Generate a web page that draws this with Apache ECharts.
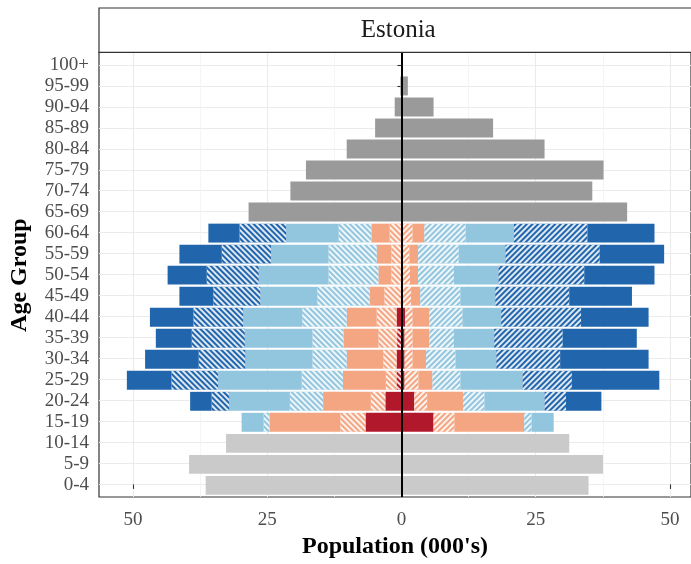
<!DOCTYPE html>
<html>
<head>
<meta charset="utf-8">
<script src="https://cdn.jsdelivr.net/npm/echarts@6/dist/echarts.min.js"></script>
<style>
  html, body { margin: 0; padding: 0; background: #fff; }
  #chart { width: 691px; height: 564px; }
</style>
</head>
<body>
<div id="chart"></div>
<script>
// Age bands, youngest first (drawn bottom to top)
const ageGroups = ['0-4', '5-9', '10-14', '15-19', '20-24', '25-29', '30-34', '35-39',
  '40-44', '45-49', '50-54', '55-59', '60-64', '65-69', '70-74', '75-79', '80-84',
  '85-89', '90-94', '95-99', '100+'];

const youngGroups = ['0-4', '5-9', '10-14'];
const workingGroups = ['15-19', '20-24', '25-29', '30-34', '35-39', '40-44', '45-49',
  '50-54', '55-59', '60-64'];
const oldGroups = ['65-69', '70-74', '75-79', '80-84', '85-89', '90-94', '95-99', '100+'];

// Population in thousands, left half of the pyramid
const youngLeft = [36.6, 39.7, 32.8];
const oldLeft = [28.6, 20.8, 17.9, 10.3, 5.0, 1.35, 0.3, 0.05];
const redSolidLeft   = [6.8, 3.1, 0, 1.0, 0, 1.0, 0.2, 0.2, 0.2, 0.2];
const redHatchLeft   = [0, 0, 1.0, 0, 0.9, 0, 0, 0, 0, 0];
const salmonHatchLeft = [4.7, 2.7, 2.0, 2.5, 3.5, 3.7, 3.1, 1.8, 1.8, 2.1];
const salmonSolidLeft = [13.2, 8.9, 8.0, 6.8, 6.5, 5.6, 2.7, 2.4, 2.7, 3.4];
const lightHatchLeft = [1.1, 6.2, 7.7, 6.4, 5.8, 8.3, 9.8, 9.3, 9.0, 6.1];
const lightSolidLeft = [4.1, 11.3, 15.6, 12.5, 12.6, 11.0, 10.6, 13.0, 10.7, 9.8];
const darkHatchLeft  = [0, 3.3, 8.7, 8.7, 9.9, 9.3, 8.8, 9.7, 9.2, 8.7];
const darkSolidLeft  = [0, 4.0, 8.3, 10.0, 6.7, 8.1, 6.3, 7.3, 7.9, 5.8];

// Population in thousands, right half of the pyramid
const youngRight = [34.8, 37.5, 31.2];
const oldRight = [42.0, 35.5, 37.6, 26.6, 17.0, 5.9, 1.1, 0.15];
const redSolidRight   = [5.9, 2.3, 0.5, 0.5, 0.5, 0.6, 0.2, 0.2, 0.2, 0.2];
const redHatchRight   = [0, 0, 0, 0, 0, 0, 0, 0, 0, 0];
const salmonHatchRight = [3.9, 2.4, 2.6, 1.5, 1.5, 1.4, 1.5, 1.3, 1.2, 1.8];
const salmonSolidRight = [13.0, 6.7, 2.6, 2.5, 3.1, 3.1, 1.7, 1.5, 1.6, 2.2];
const lightHatchRight = [1.4, 4.0, 5.2, 5.5, 4.6, 6.2, 7.5, 6.7, 7.6, 7.7];
const lightSolidRight = [4.1, 11.2, 11.6, 7.6, 7.5, 7.2, 6.5, 8.3, 8.7, 9.0];
const darkHatchRight  = [0, 4.0, 9.2, 11.9, 12.8, 14.9, 13.8, 16.0, 17.6, 13.7];
const darkSolidRight  = [0, 6.6, 16.3, 16.5, 13.8, 12.6, 11.7, 13.1, 12.0, 12.5];

const majorTicks = [-50, -25, 0, 25, 50];
const minorTicks = [-37.5, -12.5, 12.5, 37.5];

const FONT = '"Liberation Serif", "Times New Roman", serif';

// Spread a subset of age bands onto the full category list
function spread(groups, values, sign) {
  const out = ageGroups.map(() => null);
  groups.forEach((g, i) => {
    const v = values[i];
    out[ageGroups.indexOf(g)] = v ? sign * v : null;
  });
  return out;
}

function hatch(side) {
  return {
    symbol: 'rect',
    symbolSize: 1,
    dashArrayX: [1, 0],
    dashArrayY: [2, 2],
    rotation: side === 'L' ? Math.PI / 4 : -Math.PI / 4,
    color: 'rgba(255,255,255,0.85)'
  };
}

// Segments stacked outward from the centre line
const segments = [
  { color: '#B2182B', hatched: false, L: redSolidLeft, R: redSolidRight },
  { color: '#B2182B', hatched: true, L: redHatchLeft, R: redHatchRight },
  { color: '#F4A582', hatched: true, L: salmonHatchLeft, R: salmonHatchRight },
  { color: '#F4A582', hatched: false, L: salmonSolidLeft, R: salmonSolidRight },
  { color: '#92C5DE', hatched: true, L: lightHatchLeft, R: lightHatchRight },
  { color: '#92C5DE', hatched: false, L: lightSolidLeft, R: lightSolidRight },
  { color: '#2166AC', hatched: true, L: darkHatchLeft, R: darkHatchRight },
  { color: '#2166AC', hatched: false, L: darkSolidLeft, R: darkSolidRight }
];

function barSeries(name, data, color, decal) {
  const s = {
    name: name,
    type: 'bar',
    xAxisIndex: 3,
    yAxisIndex: 1,
    stack: 'pop',
    barWidth: '90%',
    data: data,
    itemStyle: { color: color },
    emphasis: { disabled: true },
    silent: true
  };
  if (decal) s.itemStyle.decal = decal;
  return s;
}

const series = [];
['L', 'R'].forEach(side => {
  const sign = side === 'L' ? -1 : 1;
  segments.forEach((seg, k) => {
    series.push(barSeries('seg' + k + side, spread(workingGroups, seg[side], sign),
      seg.color, seg.hatched ? hatch(side) : null));
  });
  series.push(barSeries('young' + side,
    spread(youngGroups, side === 'L' ? youngLeft : youngRight, sign), '#CACACA', null));
  series.push(barSeries('old' + side,
    spread(oldGroups, side === 'L' ? oldLeft : oldRight, sign), '#9A9A9A', null));
});

// Axis limits: data range padded by 5% on each side
function totals(idx, side) {
  let t = 0;
  segments.forEach(seg => { t += seg[side][idx]; });
  return t;
}
const leftMax = Math.max(...youngLeft, ...oldLeft, ...workingGroups.map((_, i) => totals(i, 'L')));
const rightMax = Math.max(...youngRight, ...oldRight, ...workingGroups.map((_, i) => totals(i, 'R')));
const pad = 0.05 * (leftMax + rightMax);
const xMin = -(leftMax + pad);
const xMax = rightMax + pad;

const panel = { left: 99, right: -6.4, top: 52.3, bottom: 66 };
const band = (564 - panel.top - panel.bottom) / (ageGroups.length + 0.2);

const chart = echarts.init(document.getElementById('chart'), null, { renderer: 'canvas' });

chart.setOption({
  animation: false,
  backgroundColor: '#ffffff',
  grid: [
    { left: panel.left, right: panel.right, top: panel.top, bottom: panel.bottom,
      show: true, borderColor: '#333333', borderWidth: 1.2, backgroundColor: 'transparent' },
    { left: panel.left, right: panel.right, top: panel.top + 0.1 * band,
      bottom: panel.bottom + 0.1 * band }
  ],
  xAxis: [
    {
      gridIndex: 0, type: 'value', min: xMin, max: xMax, position: 'bottom',
      axisLine: { show: false },
      axisTick: { show: true, customValues: majorTicks, length: 4.5,
        lineStyle: { color: '#333333', width: 1.1 } },
      axisLabel: { customValues: majorTicks, formatter: v => String(Math.abs(v)),
        fontFamily: FONT, fontSize: 19, color: '#4D4D4D', margin: 14 },
      splitLine: { show: true, lineStyle: { color: '#EBEBEB', width: 1.1 } },
      name: "Population (000's)", nameLocation: 'middle', nameGap: 38,
      nameTextStyle: { fontFamily: FONT, fontWeight: 'bold', fontSize: 24, color: '#000' }
    },
    {
      gridIndex: 0, type: 'value', min: xMin, max: xMax, position: 'bottom',
      axisLine: { show: false },
      axisTick: { show: false, customValues: minorTicks },
      axisLabel: { show: false },
      splitLine: { show: true, lineStyle: { color: '#F3F3F3', width: 0.8 } }
    },
    {
      gridIndex: 0, type: 'value', min: xMin, max: xMax, position: 'bottom', z: 6,
      axisLine: { show: false },
      axisTick: { show: false, customValues: [0] },
      axisLabel: { show: false },
      splitLine: { show: true, lineStyle: { color: '#000000', width: 2 } }
    },
    { gridIndex: 1, type: 'value', min: xMin, max: xMax, show: false }
  ],
  yAxis: [
    {
      gridIndex: 0, type: 'value', min: -0.6, max: ageGroups.length - 1 + 0.6,
      axisLine: { show: false },
      axisTick: { show: false, customValues: ageGroups.map((_, i) => i) },
      axisLabel: { show: false },
      splitLine: { show: true, lineStyle: { color: '#EBEBEB', width: 1.1 } }
    },
    {
      gridIndex: 1, type: 'category', data: ageGroups,
      axisLine: { show: false },
      axisTick: { show: true, alignWithLabel: true, interval: 0, length: 4.5,
        lineStyle: { color: '#333333', width: 1.1 } },
      axisLabel: { interval: 0, fontFamily: FONT, fontSize: 19, color: '#4D4D4D', margin: 11 },
      splitLine: { show: false },
      name: 'Age Group', nameLocation: 'middle', nameRotate: 90, nameGap: 68,
      nameTextStyle: { fontFamily: FONT, fontWeight: 'bold', fontSize: 24, color: '#000' }
    }
  ],
  graphic: [
    { type: 'rect', z: 10, shape: { x: panel.left, y: 8, width: 620, height: panel.top - 8 },
      style: { fill: '#ffffff', stroke: '#333333', lineWidth: 1.2 } },
    { type: 'text', z: 11, x: panel.left + (691 - panel.right - panel.left) / 2, y: 30.5,
      style: { text: 'Estonia', fontFamily: FONT, fontSize: 25, fill: '#1A1A1A',
        align: 'center', verticalAlign: 'middle' } }
  ],
  series: series
});
</script>
</body>
</html>
